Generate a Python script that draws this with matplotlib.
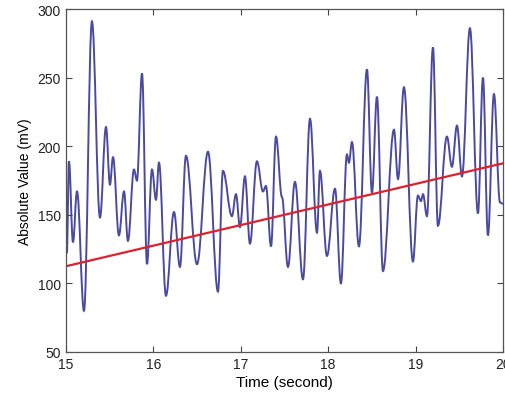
import matplotlib
matplotlib.use('Agg')
import matplotlib.pyplot as plt
from matplotlib.path import Path
from matplotlib.patches import PathPatch

# Signal turning points: time (s) and absolute value (mV)
time_s = [15.000, 15.010, 15.034, 15.080, 15.126, 15.206, 15.297, 15.389, 15.458, 15.503,
          15.538, 15.606, 15.664, 15.709, 15.778, 15.812, 15.870, 15.927, 15.984, 16.030,
          16.064, 16.144, 16.236, 16.304, 16.373, 16.499, 16.625, 16.739, 16.796, 16.899,
          16.945, 16.991, 17.048, 17.105, 17.185, 17.254, 17.288, 17.346, 17.403, 17.471,
          17.540, 17.620, 17.712, 17.792, 17.872, 17.906, 17.986, 18.078, 18.146, 18.215,
          18.238, 18.272, 18.352, 18.444, 18.501, 18.558, 18.627, 18.753, 18.799, 18.867,
          18.970, 19.027, 19.062, 19.085, 19.130, 19.199, 19.256, 19.359, 19.416, 19.474,
          19.531, 19.622, 19.714, 19.771, 19.828, 19.897, 19.966, 20.000]
value_mv = [150, 122, 189, 130, 167, 80, 291, 148, 214, 172,
            192, 135, 167, 131, 183, 175, 253, 114, 183, 161,
            188, 91, 152, 112, 193, 114, 196, 94, 182, 149,
            165, 141, 178, 129, 189, 167, 171, 127, 207, 163,
            112, 174, 103, 220, 137, 182, 120, 169, 100, 194,
            188, 203, 127, 256, 166, 236, 109, 212, 176, 243,
            116, 164, 160, 165, 149, 272, 142, 207, 185, 215,
            178, 286, 151, 250, 135, 238, 159, 158]

# Linear trend endpoints
trend_t = [15, 20]
trend_v = [112.5, 187.5]

fig = plt.figure(figsize=(5.06, 4.02), dpi=100)
ax = fig.add_axes([0.1304, 0.1219, 0.8636, 0.8532])

# smooth curve through the turning points: cubic segments with flat tangents
verts = [(time_s[0], value_mv[0])]
codes = [Path.MOVETO]
k = 0.38
for i in range(1, len(time_s)):
    t0, v0 = time_s[i - 1], value_mv[i - 1]
    t1, v1 = time_s[i], value_mv[i]
    dt = t1 - t0
    verts += [(t0 + k * dt, v0), (t1 - k * dt, v1), (t1, v1)]
    codes += [Path.CURVE4] * 3
ax.add_patch(PathPatch(Path(verts, codes), facecolor='none',
                       edgecolor='#4a4aa0', lw=1.4))

ax.plot(trend_t, trend_v, color='#e0202a', lw=1.6)

ax.set_xlim(15, 20)
ax.set_ylim(50, 300)
ax.set_xticks([15, 16, 17, 18, 19, 20])
ax.set_yticks([50, 100, 150, 200, 250, 300])
ax.tick_params(direction='in', top=True, right=True, length=4, width=0.8,
               colors='#444444', labelsize=10, labelcolor='#222222')
for lbl in ax.get_xticklabels() + ax.get_yticklabels():
    lbl.set_family('Liberation Sans')
for s in ax.spines.values():
    s.set_color('#555555')
    s.set_linewidth(0.9)

ax.set_xlabel('Time (second)', fontsize=11, family='Liberation Sans', labelpad=3)
ax.set_ylabel('Absolute Value (mV)', fontsize=10, family='Liberation Sans', labelpad=4)

fig.savefig('out.png', dpi=100)
